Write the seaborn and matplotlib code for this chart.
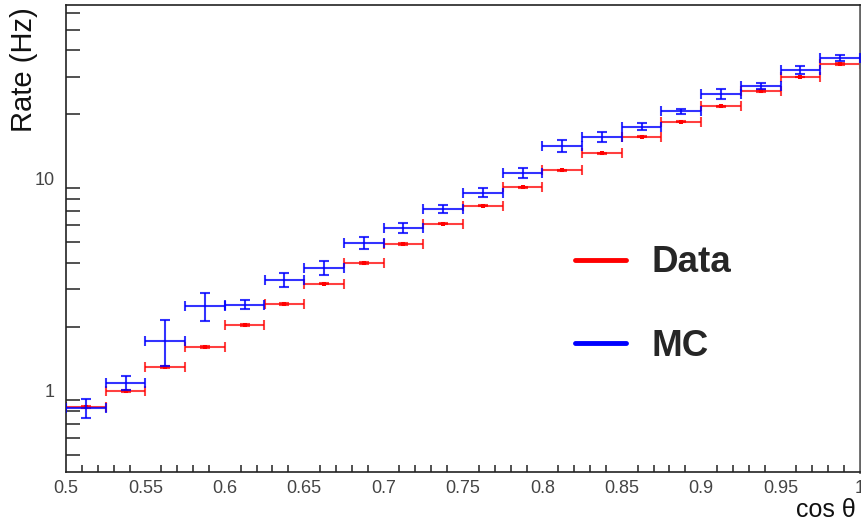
import numpy as np
import pandas as pd
import matplotlib
matplotlib.use("Agg")
import matplotlib.pyplot as plt
import seaborn as sns
from matplotlib.ticker import FixedLocator, LogLocator, NullFormatter, MultipleLocator, FuncFormatter
from matplotlib.lines import Line2D

# ---- data ----
bin_centers = [0.5125 + 0.025 * i for i in range(20)]
data_rate = [0.835, 1.00, 1.29, 1.61, 2.04, 2.56, 3.18, 3.99, 4.90, 6.11,
             7.40, 9.06, 10.9, 13.1, 15.7, 18.4, 21.8, 25.7, 29.9, 34.5]
data_err = [0.01, 0.012, 0.015, 0.02, 0.02, 0.02, 0.02, 0.03, 0.03, 0.03,
            0.04, 0.05, 0.05, 0.06, 0.08, 0.08, 0.1, 0.25, 0.12, 0.35]
mc_rate = [0.826, 1.09, 1.72, 2.50, 2.54, 3.32, 3.78, 4.94, 5.85, 7.16,
           8.55, 10.55, 14.2, 15.7, 17.5, 20.6, 25.0, 27.1, 32.4, 36.7]
mc_err = [0.085, 0.085, 0.42, 0.37, 0.13, 0.25, 0.29, 0.32, 0.32, 0.30,
          0.40, 0.57, 0.9, 0.85, 0.65, 0.65, 1.35, 0.9, 1.4, 1.3]
half_width = 0.0125
legend_labels = ["Data", "MC"]

df = pd.DataFrame({"x": bin_centers, "data": data_rate, "mc": mc_rate})

sns.set_theme(style="white")
plt.rcParams["font.family"] = ["Liberation Sans", "DejaVu Sans"]

W, H = 862, 527
fig = plt.figure(figsize=(W / 100, H / 100), dpi=100)
ax = fig.add_axes([66 / W, 55 / H, 794 / W, 467 / H])

red = "#ff0000"
blue = "#0000ff"

ax.errorbar(df["x"], df["data"], xerr=half_width, yerr=data_err, fmt="none",
            ecolor=red, elinewidth=1.5, capsize=3.5, capthick=1.5, alpha=0.75, zorder=2)
sns.scatterplot(data=df, x="x", y="data", ax=ax, color=red, marker="s", s=10,
                linewidth=0, zorder=3, legend=False)
ax.errorbar(df["x"], df["mc"], xerr=half_width, yerr=mc_err, fmt="none",
            ecolor=blue, elinewidth=1.5, capsize=3.5, capthick=1.5, alpha=0.8, zorder=4)

ax.set_yscale("log")
ax.set_xlim(0.5, 1.0)
ax.set_ylim(0.414, 65.3)

# ticks ROOT style (inside)
ax.xaxis.set_major_locator(MultipleLocator(0.05))
ax.xaxis.set_minor_locator(MultipleLocator(0.01))
ax.xaxis.set_major_formatter(FuncFormatter(lambda v, p: ("%g" % round(v, 3))))
ax.yaxis.set_major_locator(FixedLocator([1, 10]))
ax.yaxis.set_major_formatter(FuncFormatter(lambda v, p: "%g" % v))
ax.yaxis.set_minor_locator(LogLocator(base=10, subs=np.arange(2, 10)))
ax.yaxis.set_minor_formatter(NullFormatter())
ax.tick_params(axis="x", which="major", direction="in", length=10, width=1.2,
               color="#333333", labelsize=13, labelcolor="#444444", pad=6, top=False)
ax.tick_params(axis="x", which="minor", direction="in", length=5, width=1.2,
               color="#333333", top=False, bottom=True)
ax.tick_params(axis="y", which="major", direction="in", length=18, width=1.2,
               color="#333333", labelsize=13, labelcolor="#444444", pad=8, right=False)
ax.tick_params(axis="y", which="minor", direction="in", length=10, width=1.2,
               color="#333333", left=True, right=False)

sns.despine(ax=ax, top=False, right=False)
for name, sp in ax.spines.items():
    sp.set_visible(True)
    sp.set_color("#222222")
    sp.set_linewidth(1.2)
ax.spines["right"].set_color("#666666")
ax.spines["right"].set_linewidth(2)

ax.set_xlabel("")
ax.set_ylabel("")
fig.text(856 / W, 1 - 517 / H, "cos θ", fontsize=18, ha="right", va="baseline", color="#111111")
fig.text(24 / W, 1 - 7 / H, "Rate (Hz)", fontsize=21, rotation=90, ha="center", va="top",
         color="#111111")

# legend
handles = [Line2D([0], [0], color=red, lw=3.5), Line2D([0], [0], color=blue, lw=3.5)]
ax.legend(handles, legend_labels, loc="center left",
          bbox_to_anchor=((575 - 66) / 794, (472 - 304.5) / 467),
          frameon=False, prop={"weight": "bold", "size": 26.5}, handlelength=1.39,
          handletextpad=0.7, labelspacing=1.31, borderpad=0, borderaxespad=0)

fig.savefig("out.png", dpi=100)
